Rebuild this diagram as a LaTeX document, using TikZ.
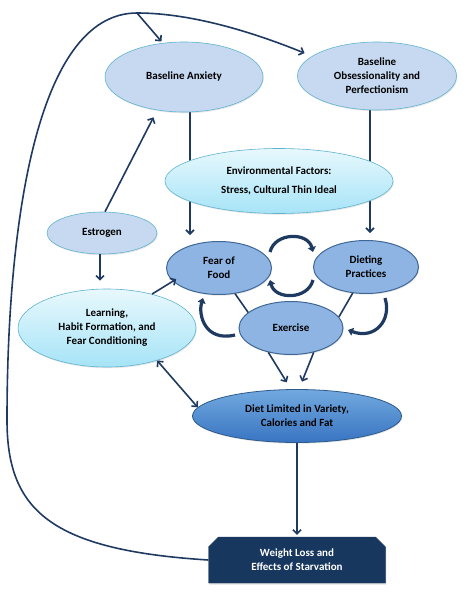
\documentclass[tikz,border=0pt]{standalone}
\usepackage{fontspec}
\setmainfont{Carlito}
\usetikzlibrary{shapes.geometric,shapes.misc,arrows.meta,shadows,backgrounds}
\definecolor{navy}{HTML}{1F3A60}
\definecolor{paleblue}{HTML}{C6D9F1}
\definecolor{tealedge}{HTML}{5FB3CF}
\definecolor{cyantop}{HTML}{E8F8FD}
\definecolor{cyanbot}{HTML}{A6E4F7}
\definecolor{midblue}{HTML}{8EB4E3}
\definecolor{midedge}{HTML}{3F6897}
\definecolor{dltop}{HTML}{72A9DF}
\definecolor{dlbot}{HTML}{3874C2}
\definecolor{dledge}{HTML}{2E5C8A}
\definecolor{wlfill}{HTML}{17375E}
\begin{document}
\begin{tikzpicture}[x=1pt,y=-1pt,
  base/.style={ellipse, inner sep=0pt, align=center,
    font=\fontsize{11}{14}\selectfont\bfseries,
    drop shadow={opacity=0.2,shadow xshift=0.8pt,shadow yshift=-1.2pt}},
  pale/.style={base, fill=paleblue, draw=tealedge, line width=0.6pt},
  cyanell/.style={base, top color=cyantop, bottom color=cyanbot, draw=tealedge, line width=0.6pt},
  mid/.style={base, fill=midblue, draw=midedge, line width=1pt},
  dlell/.style={base, top color=dltop, bottom color=dlbot, draw=dledge, line width=0.8pt},
  wlbox/.style={chamfered rectangle, chamfered rectangle corners={north west,north east},
    chamfered rectangle xsep=5pt, chamfered rectangle ysep=5pt,
    fill=wlfill, draw=wlfill, text=white, align=center, inner sep=0pt,
    font=\fontsize{11}{14}\selectfont\bfseries,
    drop shadow={opacity=0.25,shadow xshift=0.8pt,shadow yshift=-1.5pt}},
  arr/.style={draw=navy, line width=1.6pt, -{Straight Barb[length=4pt,width=8pt]}},
  dbl/.style={draw=navy, line width=1.6pt, {Straight Barb[length=4pt,width=8pt]}-{Straight Barb[length=4pt,width=8pt]}},
  plain/.style={draw=navy, line width=1.6pt},
  cyc/.style={draw=navy, line width=3.2pt, -{Triangle[length=5pt,width=8pt]}}]
\useasboundingbox (0,0) rectangle (469,592);

\node[pale, minimum width=158pt, minimum height=70pt] (ba) at (184,77) {Baseline Anxiety};
\node[pale, minimum width=159pt, minimum height=68pt] (obs) at (377,76) {Baseline\\Obsessionality and\\Perfectionism};
\node[cyanell, minimum width=228pt, minimum height=65pt] (env) at (279,181) {Environmental Factors:\\[5pt]Stress, Cultural Thin Ideal};
\node[pale, minimum width=110pt, minimum height=42pt] (est) at (102,233) {Estrogen};
\node[cyanell, minimum width=178pt, minimum height=78pt] (lr) at (107,328) {Learning,\\Habit Formation, and\\Fear Conditioning};
\node[mid, minimum width=105pt, minimum height=53pt] (ff) at (219,268) {Fear of\\Food};
\node[mid, minimum width=105pt, minimum height=53pt] (dp) at (366,267) {Dieting\\Practices};
\node[mid, minimum width=104pt, minimum height=53pt] (ex) at (291,328) {Exercise};
\node[dlell, minimum width=209pt, minimum height=53pt] (dl) at (297,416) {Diet Limited in Variety,\\Calories and Fat};
\node[wlbox, minimum width=177pt, minimum height=46pt] (wl) at (297,560) {Weight Loss and\\Effects of Starvation};

\coordinate (top) at (137,13);
\coordinate (a1) at (270,252);
\coordinate (a2) at (313,252);
\coordinate (b1) at (313,280);
\coordinate (b2) at (270,280);
\coordinate (l1) at (235,335);
\coordinate (l2) at (203,298);
\coordinate (r1) at (385,298);
\coordinate (r2) at (348,330);

\begin{pgfonlayer}{background}
\draw[arr, shorten >=6pt] ([xshift=6pt]ba.south) -- ([xshift=6pt]ba.south |- ff.north);
\draw[arr, shorten >=7pt] ([xshift=-7pt]obs.south) -- ([xshift=-7pt]obs.south |- dp.north);
\end{pgfonlayer}

\draw[navy, line width=1.6pt] (wl.west) .. controls (50,550) and (7,510) .. (7,420)
  .. controls (7,230) and (35,13) .. (top);
\draw[arr, shorten >=2pt] (top) -- (ba.122);
\draw[arr, shorten >=8pt] (top) .. controls (195,13) and (260,35) .. (obs.163);

\draw[arr, shorten >=8pt] ([xshift=3pt]est.north) -- (ba.231);
\draw[arr, shorten >=8pt] ([xshift=-2pt]est.south) -- ([xshift=-2pt]est.south |- lr.north);
\draw[arr, shorten >=-4pt] (lr.37) -- (ff.196);
\draw[dbl] (lr.-33) -- (dl.175);

\draw[plain] (ff.-58) -- (ex.160);
\draw[plain] (dp.243) -- (ex.13);
\draw[arr, shorten >=8pt] (ex.227) -- ([xshift=-6pt]dl.north);
\draw[arr, shorten >=8pt] (ex.-47) -- ([xshift=2pt]dl.north);
\draw[arr, shorten >=2pt] (dl.south) -- (wl.north);

\draw[cyc] (a1) .. controls (275,232) and (308,232) .. (a2);
\draw[cyc] (b1) .. controls (308,300) and (275,300) .. (b2);
\draw[cyc] (l1) .. controls (205,342) and (198,315) .. (l2);
\draw[cyc] (r1) .. controls (392,320) and (375,340) .. (r2);
\end{tikzpicture}
\end{document}
